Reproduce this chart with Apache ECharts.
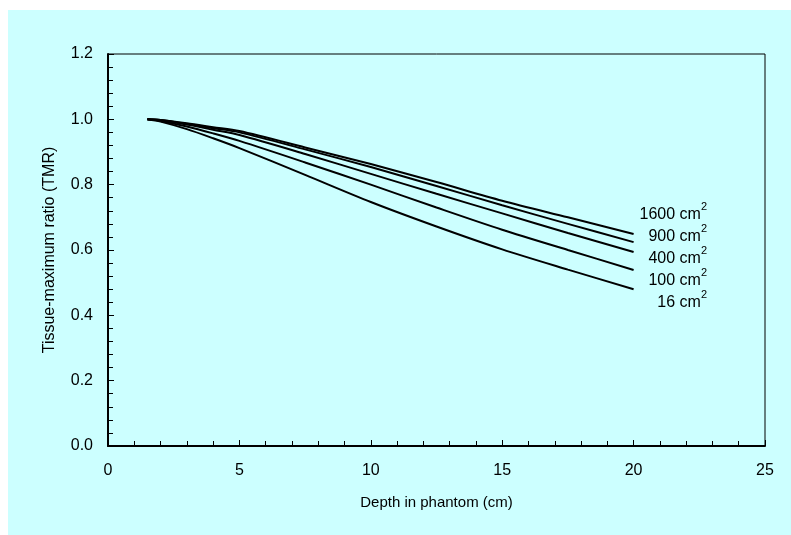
<!DOCTYPE html>
<html>
<head>
<meta charset="utf-8">
<style>
    html, body { margin: 0; padding: 0; background: #fff; }
    #wrap { position: relative; width: 791px; height: 535px; background: #fff; }
    #paper { position: absolute; left: 8px; top: 10px; right: 0; bottom: 0; background: #ccffff; }
    #tmrChart { position: absolute; left: 0; top: 0; width: 791px; height: 535px; }
</style>
<script src="https://cdn.jsdelivr.net/npm/echarts@6/dist/echarts.min.js"></script>
</head>
<body>
<div id="wrap">
    <div id="paper"></div>
    <div id="tmrChart"></div>
</div>
<script>
    // depth (cm) and TMR per field size
    var depth = [1.5, 2, 3, 4, 5, 7.5, 10, 12.5, 15, 17.5, 20];
    var tmr1600 = [1.0, 0.998, 0.988, 0.976, 0.964, 0.914, 0.863, 0.808, 0.751, 0.700, 0.649];
    var tmr900  = [1.0, 0.998, 0.986, 0.973, 0.960, 0.908, 0.854, 0.796, 0.737, 0.680, 0.624];
    var tmr400  = [1.0, 0.997, 0.984, 0.968, 0.952, 0.894, 0.833, 0.772, 0.712, 0.652, 0.594];
    var tmr100  = [1.0, 0.995, 0.978, 0.957, 0.934, 0.868, 0.800, 0.730, 0.662, 0.600, 0.539];
    var tmr16   = [1.0, 0.993, 0.970, 0.942, 0.912, 0.830, 0.747, 0.672, 0.602, 0.540, 0.480];
    var fieldNames = ['1600', '900', '400', '100', '16'];
    var fieldData = [tmr1600, tmr900, tmr400, tmr100, tmr16];

    var font = 'Liberation Sans, Arial, sans-serif';

    function pairs(ys) {
        var out = [];
        for (var i = 0; i < depth.length; i++) {
            out.push([depth[i], ys[i]]);
        }
        return out;
    }

    var series = [];
    for (var i = 0; i < fieldData.length; i++) {
        series.push({
            name: fieldNames[i] + ' cm2',
            type: 'line',
            data: pairs(fieldData[i]),
            smooth: 0.3,
            showSymbol: false,
            lineStyle: { color: '#000', width: 2 },
            z: 3
        });
    }

    // labels next to the line ends
    var labelY = [212, 234, 256, 278, 300];
    var graphics = [];
    for (var j = 0; j < fieldNames.length; j++) {
        graphics.push({
            type: 'text',
            right: 84,
            top: labelY[j] - 11,
            style: {
                text: '{a|' + fieldNames[j] + ' cm}{s|2}',
                rich: {
                    a: { fontFamily: font, fontSize: 16, fill: '#000', lineHeight: 22, verticalAlign: 'bottom' },
                    s: { fontFamily: font, fontSize: 11, fill: '#000', lineHeight: 22, verticalAlign: 'top', padding: [0, 0, 6, 0] }
                }
            }
        });
    }

    var option = {
        animation: false,
        backgroundColor: 'transparent',
        grid: {
            left: 108, right: 26, top: 54, bottom: 89,
            show: true,
            borderColor: '#000',
            borderWidth: 1,
            backgroundColor: 'transparent'
        },
        xAxis: {
            type: 'value',
            min: 0, max: 25, interval: 5,
            name: 'Depth in phantom (cm)',
            nameLocation: 'middle',
            nameGap: 49,
            nameTextStyle: { fontFamily: font, fontSize: 15, color: '#000' },
            axisLine: { lineStyle: { color: '#000', width: 2 } },
            axisTick: { inside: true, length: 6, lineStyle: { color: '#000', width: 1 } },
            minorTick: { show: true, splitNumber: 5, length: 5, lineStyle: { color: '#000', width: 1 } },
            axisLabel: { fontFamily: font, fontSize: 16, color: '#000', margin: 17 },
            splitLine: { show: false }
        },
        yAxis: {
            type: 'value',
            min: 0, max: 1.2, interval: 0.2,
            name: 'Tissue-maximum ratio (TMR)',
            nameLocation: 'middle',
            nameGap: 50,
            nameTextStyle: { fontFamily: font, fontSize: 16, color: '#000' },
            axisLine: { show: true, lineStyle: { color: '#000', width: 2 } },
            axisTick: { inside: true, length: 6, lineStyle: { color: '#000', width: 1 } },
            minorTick: { show: true, splitNumber: 5, length: 5, lineStyle: { color: '#000', width: 1 } },
            axisLabel: {
                fontFamily: font, fontSize: 16, color: '#000', margin: 15,
                formatter: function (v) { return v.toFixed(1); }
            },
            splitLine: { show: false }
        },
        graphic: graphics,
        series: series
    };

    var chart = echarts.init(document.getElementById('tmrChart'), null, { renderer: 'canvas' });
    chart.setOption(option);
</script>
</body>
</html>
